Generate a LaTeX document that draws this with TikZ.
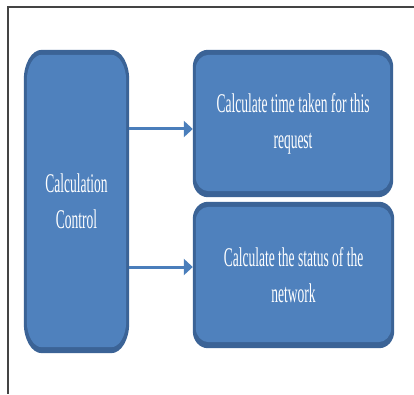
\documentclass[tikz,border=0pt]{standalone}
\usepackage{fontspec}
\usetikzlibrary{calc,backgrounds,arrows.meta}
\newfontfamily\narrowserif[FakeStretch=0.5]{Liberation Serif}

\definecolor{facecol}{HTML}{4F81BD}
\definecolor{bandcol}{HTML}{3B6396}
\definecolor{arrowcol}{HTML}{4A7EBB}
\definecolor{framecol}{HTML}{444444}

% rounded rectangle with elliptical corners between two corner points
\newcommand\ovalrect[5]{%
  \path[#1] let \p1=(#2), \p2=(#3) in
    (\x1+#4,\y1) -- (\x2-#4,\y1)
    arc[start angle=90,end angle=0,x radius=#4,y radius=#5]
    -- (\x2,\y2+#5)
    arc[start angle=0,end angle=-90,x radius=#4,y radius=#5]
    -- (\x1+#4,\y2)
    arc[start angle=270,end angle=180,x radius=#4,y radius=#5]
    -- (\x1,\y1-#5)
    arc[start angle=180,end angle=90,x radius=#4,y radius=#5] -- cycle;}

% bevelled box drawn behind a named node
\newcommand\bevelbox[5]{%
  \ovalrect{fill=bandcol}{#1.north west}{#1.south east}{#2}{#3}
  \ovalrect{fill=facecol}{[xshift=3pt,yshift=-5pt]#1.north west}{[xshift=-3pt,yshift=6pt]#1.south east}{#4}{#5}}

\tikzset{
  boxtext/.style={inner sep=0pt,align=center,text=white,
    font=\narrowserif\fontsize{27}{36}\selectfont},
  link/.style={draw=arrowcol,line width=3pt,-{Triangle[length=9pt,width=16pt]}},
  frameline/.style={draw=framecol,line width=1.4pt}
}

\begin{document}
\begin{tikzpicture}[x=1pt,y=1pt]
  \useasboundingbox (0,0) rectangle (414,394);

  % page frame (top and left edges)
  \coordinate (ftop) at (414,387);
  \coordinate (fcorner) at (8,387);
  \coordinate (fbottom) at (8,0);
  \draw[frameline] (ftop) -- (fcorner) -- (fbottom);

  % boxes
  \node[boxtext,minimum width=105pt,minimum height=303pt] (ctrl) at (76.5,192.5)
    {Calculation\\Control};
  \node[boxtext,minimum width=200pt,minimum height=147pt] (timebox) at (293,270.5)
    {Calculate time taken for this\\request};
  \node[boxtext,minimum width=201pt,minimum height=146pt] (netbox) at (293.5,119)
    {Calculate the status of the\\network};

  \begin{scope}[on background layer]
    \bevelbox{ctrl}{18pt}{30pt}{15pt}{26pt}
    \bevelbox{timebox}{15pt}{17pt}{13pt}{14pt}
    \bevelbox{netbox}{15pt}{17pt}{13pt}{14pt}
  \end{scope}

  % connectors
  \coordinate (lev1) at (0,265);
  \coordinate (lev2) at (0,127);
  \draw[link] (ctrl.east |- lev1) -- (timebox.west |- lev1);
  \draw[link] (ctrl.east |- lev2) -- (netbox.west |- lev2);
\end{tikzpicture}
\end{document}
